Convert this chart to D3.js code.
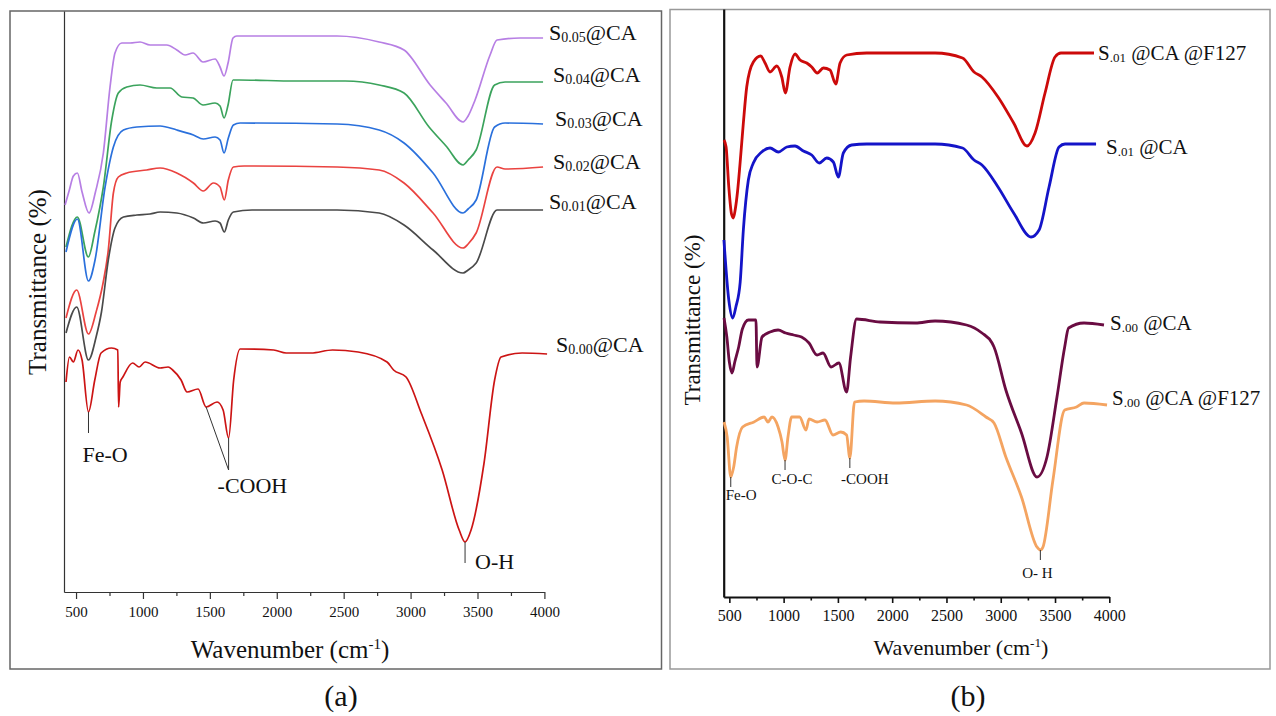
<!DOCTYPE html>
<html><head><meta charset="utf-8">
<script src="https://cdn.jsdelivr.net/npm/d3@7"></script>
<style>body{margin:0;background:#fff} text{font-family:"Liberation Serif","Times New Roman",serif}</style>
</head><body><svg id="c" width="1276" height="716"></svg>
<script>
// ---------- DATA ----------
const xMajorTicks = [500,1000,1500,2000,2500,3000,3500,4000];
const xMinorTicks = [750,1250,1750,2250,2750,3250,3750];

// Panel (a): [wavenumber, transmittance (a.u.)]
const leftNames = ["0.05","0.04","0.03","0.02","0.01","0.00"];
const s005 = [[418,38.7],[450,40.2],[480,41.6],[510,41.9],[545,40.0],[597,37.9],[645,40.0],[704,43.9],[754,50.5],[791,53.9],[842,54.9],[904,54.9],[978,55.0],[1053,54.7],[1178,54.7],[1253,54.2],[1315,53.7],[1374,53.9],[1449,53.0],[1539,53.3],[1576,52.5],[1606,51.6],[1636,52.9],[1673,55.4],[1701,55.6],[2174,55.6],[2451,55.6],[2765,55.0],[2951,54.2],[3146,50.7],[3265,48.9],[3392,47.0],[3430,47.6],[3482,49.2],[3594,53.7],[3646,55.2],[3818,55.4],[3990,55.4]];
const s004 = [[425,34.5],[510,37.5],[592,33.5],[640,36.0],[704,40.5],[767,47.2],[816,49.9],[879,50.5],[978,50.7],[1103,50.4],[1203,50.4],[1290,49.5],[1374,49.4],[1449,48.7],[1539,48.9],[1576,48.6],[1606,47.4],[1636,48.7],[1673,51.2],[1720,51.2],[2137,51.1],[2511,51.1],[2765,50.7],[2951,49.9],[3138,46.5],[3265,44.6],[3392,42.7],[3430,43.2],[3490,44.2],[3628,50.7],[3706,51.0],[3990,51.0]];
const s003 = [[425,34.0],[510,37.3],[593,31.1],[642,33.2],[717,40.5],[779,44.5],[854,46.2],[954,46.5],[1128,46.6],[1253,46.2],[1377,45.7],[1451,45.3],[1539,45.5],[1576,45.2],[1606,43.9],[1638,45.4],[1676,46.7],[1726,46.9],[2451,46.8],[2765,46.2],[2951,44.9],[3168,41.9],[3392,37.9],[3430,38.3],[3490,39.2],[3628,46.5],[3706,46.9],[3990,46.8]];
const s002 = [[425,27.4],[505,30.2],[593,25.8],[650,28.0],[702,30.9],[741,34.2],[779,39.9],[816,41.5],[879,41.9],[1028,42.2],[1128,42.4],[1253,41.9],[1377,40.9],[1451,40.1],[1526,40.9],[1576,40.5],[1608,39.2],[1638,41.2],[1676,42.5],[1756,42.6],[2451,42.5],[2765,42.2],[2951,40.9],[3168,37.9],[3392,34.4],[3430,34.8],[3490,35.9],[3646,42.5],[3706,42.3],[3990,42.5]];
const s001 = [[425,25.9],[505,28.5],[593,23.2],[650,25.5],[690,28.0],[741,33.2],[791,36.4],[854,37.5],[954,37.7],[1053,37.8],[1128,38.0],[1253,37.9],[1377,37.4],[1451,36.9],[1539,37.1],[1576,36.9],[1608,36.0],[1638,37.2],[1676,38.0],[1815,38.2],[2451,38.2],[2765,37.9],[2951,36.7],[3168,34.2],[3392,31.9],[3430,32.2],[3490,32.9],[3646,38.2],[3990,38.2]];
const s000 = [[425,21.0],[451,23.5],[480,23.0],[515,24.2],[545,23.2],[593,18.0],[640,21.2],[687,23.9],[765,24.4],[812,24.2],[818,18.5],[830,21.0],[850,21.5],[923,22.9],[971,22.5],[1016,23.0],[1128,22.4],[1188,22.5],[1222,22.2],[1285,21.2],[1330,20.0],[1412,20.3],[1472,18.5],[1554,19.0],[1599,18.2],[1640,15.4],[1678,21.2],[1726,24.3],[1977,24.2],[2070,23.9],[2256,23.9],[2417,24.2],[2608,24.0],[2824,23.0],[2873,22.2],[2966,21.5],[3079,17.9],[3236,12.2],[3363,6.2],[3407,5.0],[3452,6.2],[3549,12.9],[3628,21.2],[3676,23.5],[3833,23.9],[4020,23.8]];
const leftSeries = [s005,s004,s003,s002,s001,s000];

// Panel (a) band assignments: [label, wavenumber, value]
const leftBands = [["Fe-O",593,18.0],["-COOH",1640,15.4],["O-H",3407,5.0]];
const leftCoohShoulder = [1472,18.5];

// Panel (b)
const rightNames = [".01",".01",".00",".00"];
const rightRest = [" @CA @F127"," @CA"," @CA"," @CA @F127"];
const r01f = [[451,45.7],[470,45.0],[495,41.0],[520,38.3],[537,37.9],[555,38.8],[575,40.5],[599,43.4],[629,47.4],[660,51.0],[721,53.5],[789,54.1],[829,53.4],[875,52.5],[937,53.1],[983,52.0],[1016,50.4],[1059,53.0],[1105,54.3],[1151,53.7],[1213,53.4],[1259,53.0],[1310,52.4],[1366,52.9],[1427,52.7],[1480,51.3],[1520,53.4],[1581,54.2],[1765,54.4],[2395,54.4],[2648,53.9],[2754,52.5],[2827,52.0],[2975,50.0],[3119,47.4],[3242,45.1],[3316,46.4],[3408,50.4],[3500,54.0],[3555,54.4],[3859,54.4]];
const r01 = [[450,35.7],[495,29.7],[531,27.9],[560,29.0],[600,31.5],[629,36.7],[675,41.7],[721,43.4],[798,44.5],[875,44.9],[951,44.5],[1029,45.0],[1105,45.1],[1182,44.6],[1259,44.2],[1329,43.4],[1397,43.9],[1458,43.5],[1504,42.0],[1550,44.4],[1627,45.2],[1765,45.3],[2395,45.3],[2648,44.9],[2754,43.7],[2827,43.2],[2975,41.0],[3119,38.4],[3279,36.0],[3353,36.7],[3445,41.0],[3537,45.0],[3592,45.3],[3878,45.3]];
const r00 = [[451,27.9],[477,26.0],[500,23.5],[525,22.4],[550,23.5],[586,25.0],[620,26.8],[676,27.7],[745,27.7],[755,23.0],[801,26.0],[875,26.5],[949,26.7],[1019,26.4],[1092,26.2],[1165,26.0],[1234,25.4],[1308,24.2],[1363,24.4],[1437,23.0],[1509,23.4],[1580,20.5],[1617,24.0],[1672,27.8],[1888,27.5],[2214,27.4],[2395,27.6],[2685,27.2],[2827,26.4],[2920,25.4],[2938,25.0],[3047,20.7],[3191,16.4],[3334,12.0],[3426,14.0],[3518,20.0],[3589,25.0],[3625,26.9],[3767,27.4],[3951,27.2]];
const r00f = [[451,17.5],[480,16.0],[513,12.0],[540,13.0],[567,15.0],[622,17.0],[727,17.5],[820,18.0],[856,17.5],[893,18.0],[949,17.0],[985,15.5],[1013,13.7],[1040,16.0],[1074,18.0],[1147,18.0],[1206,16.7],[1234,17.8],[1308,17.5],[1381,17.7],[1455,16.2],[1526,16.5],[1580,16.2],[1610,13.9],[1653,19.5],[1741,19.6],[2034,19.4],[2395,19.6],[2685,19.2],[2864,18.0],[2938,17.4],[3047,14.0],[3191,10.0],[3334,5.0],[3365,4.7],[3389,5.0],[3481,11.7],[3589,18.7],[3698,19.0],[3767,19.4],[3979,19.2]];
const rightSeries = [r01f,r01,r00,r00f];
const rightBands = [["Fe-O",513,12.0],["C-O-C",1013,13.7],["-COOH",1610,13.9],["O- H",3365,4.7]];

// ---------- STYLE ----------
const leftColors = ["#b77fe4","#3ba35c","#2a70dc","#ea4340","#4a4a4a","#cc1414"];
const rightColors = ["#cc0a0a","#1414c8","#6a0c42","#f4a461"];
const FONT = '"Liberation Serif","Times New Roman",serif';

const svg = d3.select("#c");

// frames
svg.append("rect").attr("x",10).attr("y",11).attr("width",651.5).attr("height",658)
  .attr("fill","none").attr("stroke","#666").attr("stroke-width",1.5);
svg.append("rect").attr("x",670).attr("y",9.5).attr("width",600).attr("height",659.5)
  .attr("fill","none").attr("stroke","#999").attr("stroke-width",1.5);

function drawPanel(o){
  const x = d3.scaleLinear().domain(o.xDomain).range(o.xRange);
  const y = d3.scaleLinear().domain(o.yDomain).range(o.yRange);
  const g = svg.append("g");
  const ya = g.append("g").attr("transform",`translate(${o.xRange[0]},0)`)
    .call(d3.axisLeft(y).tickValues([]).tickSizeOuter(0));
  ya.select(".domain").attr("stroke",o.axisColor).attr("stroke-width",o.axisWidth);
  const xa = g.append("g").attr("transform",`translate(0,${o.yRange[0]})`)
    .call(d3.axisBottom(x).tickValues(xMajorTicks).tickSize(o.majorLen).tickPadding(o.pad).tickSizeOuter(0).tickFormat(d3.format("d")));
  xa.select(".domain").attr("stroke",o.axisColor).attr("stroke-width",o.axisWidth);
  xa.selectAll(".tick line").attr("stroke",o.axisColor).attr("stroke-width",o.tickWidth);
  xa.selectAll(".tick text").attr("font-family",FONT).attr("font-size",o.tickFont).attr("fill","#111");
  const xm = g.append("g").attr("transform",`translate(0,${o.yRange[0]})`)
    .call(d3.axisBottom(x).tickValues(xMinorTicks).tickSize(o.minorLen).tickFormat(""));
  xm.select(".domain").remove();
  xm.selectAll(".tick line").attr("stroke",o.axisColor).attr("stroke-width",o.tickWidth);

  const line = d3.line().x(d=>x(d[0])).y(d=>y(d[1])).curve(d3.curveMonotoneX);
  o.series.forEach((s,i)=>{
    g.append("path").datum(s).attr("d",line).attr("fill","none")
      .attr("stroke",o.colors[i]).attr("stroke-width",o.lineWidth).attr("stroke-linejoin","round");
    const last = s[s.length-1];
    const t = g.append("text").attr("x",x(last[0])+o.labelDx[i]).attr("y",y(last[1])+o.labelDy[i])
      .attr("font-size",o.labelFont).attr("fill","#111");
    t.append("tspan").text("S");
    t.append("tspan").attr("font-size",o.subFont).attr("dy",2).text(o.names[i]);
    t.append("tspan").attr("dy",-2).text(o.rest[i]);
  });
  const xt = g.append("text").attr("x",o.xTitle[0]).attr("y",o.xTitle[1]).attr("text-anchor","middle")
    .attr("font-size",o.titleFont).attr("fill","#111");
  xt.append("tspan").text("Wavenumber (cm");
  xt.append("tspan").attr("font-size",o.titleFont*0.6).attr("dy",-o.titleFont*0.38).text("-1");
  xt.append("tspan").attr("dy",o.titleFont*0.38).text(")");
  g.append("text").attr("transform",`translate(${o.yTitle[0]},${o.yTitle[1]}) rotate(-90)`)
    .attr("text-anchor","middle").attr("font-size",o.yTitleFont).attr("fill","#111").text("Transmittance (%)");
  g.append("text").attr("x",o.tag[0]).attr("y",o.tag[1]).attr("text-anchor","middle")
    .attr("font-size",30).attr("fill","#111").text(o.tagText);
  return {x,y,g};
}

// ----- Panel (a) -----
const A = drawPanel({
  xDomain:[410,4000], xRange:[64,544.4], yDomain:[0,58.1], yRange:[592,11],
  axisColor:"#333", axisWidth:1.2, tickWidth:1.2, majorLen:7, minorLen:4, pad:7, tickFont:15,
  series:leftSeries, colors:leftColors, lineWidth:1.7,
  names:leftNames, rest:leftNames.map(()=> "@CA"),
  labelDx:[6,10,12,10,6,9], labelDy:[2,0,2,2,-1,-2], labelFont:22, subFont:14,
  xTitle:[290,658], titleFont:25, yTitle:[46,282], yTitleFont:25, tag:[341,706], tagText:"(a)"
});
{
  const {x,y,g} = A;
  const st = (sel)=>sel.attr("stroke","#333").attr("stroke-width",1);
  const fe = leftBands[0];
  st(g.append("line").attr("x1",x(fe[1])).attr("x2",x(fe[1])).attr("y1",y(fe[2])).attr("y2",y(fe[2])+21));
  g.append("text").attr("x",x(fe[1])-6).attr("y",y(fe[2])+50).attr("font-size",22).attr("fill","#111").text(fe[0]);
  const co = leftBands[1];
  const meetY = y(co[2])+32;
  st(g.append("line").attr("x1",x(co[1])).attr("x2",x(co[1])).attr("y1",y(co[2])).attr("y2",meetY));
  st(g.append("line").attr("x1",x(leftCoohShoulder[0])).attr("y1",y(leftCoohShoulder[1])).attr("x2",x(co[1])).attr("y2",meetY));
  g.append("text").attr("x",x(co[1])-11).attr("y",meetY+23).attr("font-size",22).attr("fill","#111").text(co[0]);
  const oh = leftBands[2];
  st(g.append("line").attr("x1",x(oh[1])).attr("x2",x(oh[1])).attr("y1",y(oh[2])).attr("y2",y(oh[2])+21));
  g.append("text").attr("x",x(oh[1])+10).attr("y",y(oh[2])+27).attr("font-size",22).attr("fill","#111").text(oh[0]);
}

// ----- Panel (b) -----
const B = drawPanel({
  xDomain:[448,4000], xRange:[723.7,1109.3], yDomain:[0,58.8], yRange:[597,9],
  axisColor:"#111", axisWidth:2.2, tickWidth:1.6, majorLen:6, minorLen:3.5, pad:7, tickFont:16,
  series:rightSeries, colors:rightColors, lineWidth:2.8,
  names:rightNames, rest:rightRest,
  labelDx:[4,10,6,5], labelDy:[7,10,5,0], labelFont:21, subFont:13,
  xTitle:[961,655], titleFont:22, yTitle:[700,320], yTitleFont:23, tag:[968,706], tagText:"(b)"
});
{
  const {x,y,g} = B;
  const offs = [[-5,"start",23],[7,"middle",24],[15,"middle",26],[-3,"middle",28]];
  rightBands.forEach((b,i)=>{
    g.append("line").attr("x1",x(b[1])).attr("x2",x(b[1])).attr("y1",y(b[2])).attr("y2",y(b[2])+10)
      .attr("stroke","#333").attr("stroke-width",1);
    g.append("text").attr("x",x(b[1])+offs[i][0]).attr("y",y(b[2])+offs[i][2])
      .attr("text-anchor",offs[i][1]).attr("font-size",15).attr("fill","#111").text(b[0]);
  });
}
</script>
</body></html>
